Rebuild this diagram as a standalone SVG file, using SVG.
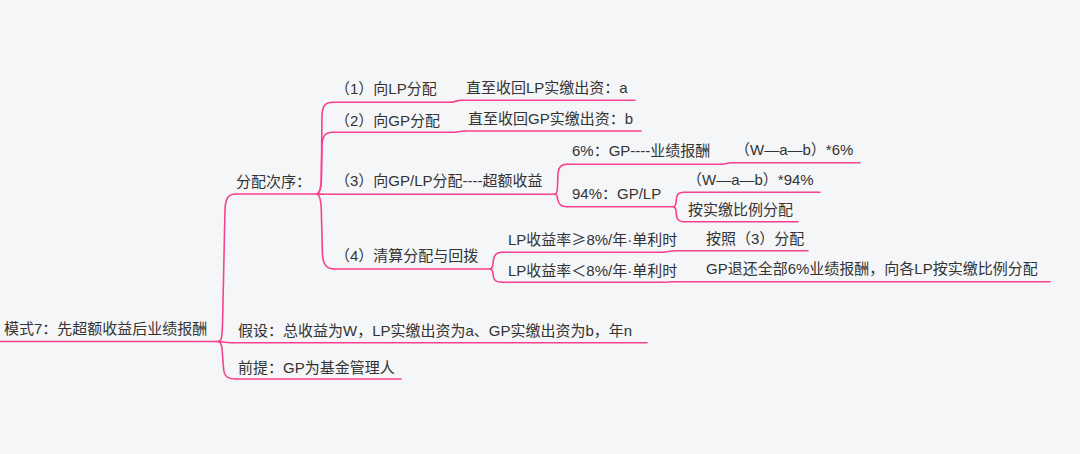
<svg xmlns="http://www.w3.org/2000/svg" width="1080" height="454" viewBox="0 0 1080 454">
<style>
text{font-family:"Liberation Sans","Noto Sans CJK SC",sans-serif;font-size:15px;fill:#333333}
.cj{font-family:"Noto Sans CJK SC",sans-serif}
.ln{fill:none;stroke:#f7408f;stroke-width:1.6;stroke-linecap:round;stroke-linejoin:round}
</style>
<rect x="0" y="0" width="1080" height="454" fill="#f5f6f8"/>
<g id="connectors" class="ln">
  <path d="M218,341.5 C222,341.5 222,336 222.5,325 L225,210 C225.5,198 228,194 236,194"/>
  <path d="M218,341.5 C222,341.5 224,342.7 232,342.7"/>
  <path d="M218,341.5 C222,342 222,348 222.5,355 L223.5,368 C224,376 227,379 236,379"/>
  <path d="M317,194 C320,193 321,188 321.3,180 L322,115 C322.5,106 325,102.3 333,102.3"/>
  <path d="M317,194 C320,193 321,188 321.3,180 L322,145 C322.5,136 325,132.3 333,132.3"/>
  <path d="M317,194 C320,194 322,194.3 330,194.3"/>
  <path d="M317,194 C320,195 321,200 321.3,210 L322.5,255 C323,264 326,269 334,269"/>
  <path d="M450,102.3 C455,102.3 456,100.3 462,100.3"/>
  <path d="M453,132.3 C458,132.3 459,131 465,131"/>
  <path d="M555,194.3 C557,193.8 557.5,190 557.5,185 L558,173 C558.5,167 561,164.3 567,164.3"/>
  <path d="M555,194.3 C557,194.8 557.5,197 557.5,199 L558,200 C558.5,204.5 561,206.7 567,206.7"/>
  <path d="M721.7,164.3 C726,164.3 727,162.7 732,162.7"/>
  <path d="M673.3,206.7 C675.5,206.5 676,204 676.2,201 L676.5,198 C677,194 679,192.3 684,192.3"/>
  <path d="M673.3,206.7 C675.5,207 676,209 676.2,212 L676.5,216 C677,220 679,221.7 684,221.7"/>
  <path d="M490,269 C492,268.5 493,266 493,263 L493.5,260 C494,255 496,252.3 502,252.3"/>
  <path d="M490,269 C492,269.5 493,272 493,274 L493.5,277 C494,280.5 496,282.3 502,282.3"/>
  <path d="M663,252.3 C668,252.3 669,250.7 675,250.7"/>
  <path d="M663,282.3 C668,282.3 669,281.7 675,281.7"/>
</g>
<g id="root">
  <text x="4" y="334">模式7：先超额收益后业绩报酬</text>
  <path class="ln" d="M0,341.5 L218,341.5"/>
</g>
<g id="n-order">
  <text x="236" y="187">分配次序：</text>
  <path class="ln" d="M236,194 L317,194"/>
</g>
<g id="n-assume">
  <text x="238" y="336">假设：总收益为W，LP实缴出资为a、GP实缴出资为b，年n</text>
  <path class="ln" d="M232,342.7 L647,342.7"/>
</g>
<g id="n-premise">
  <text x="238" y="373">前提：GP为基金管理人</text>
  <path class="ln" d="M236,379 L401,379"/>
</g>
<g id="n1">
  <text x="335" y="94">（1）向LP分配</text>
  <path class="ln" d="M333,102.3 L450,102.3"/>
</g>
<g id="n1a">
  <text x="466" y="92.5">直至收回LP实缴出资：a</text>
  <path class="ln" d="M462,100.3 L635,100.3"/>
</g>
<g id="n2">
  <text x="335" y="125.5">（2）向GP分配</text>
  <path class="ln" d="M333,132.3 L453,132.3"/>
</g>
<g id="n2a">
  <text x="468" y="124">直至收回GP实缴出资：b</text>
  <path class="ln" d="M465,131 L641,131"/>
</g>
<g id="n3">
  <text x="335" y="186">（3）向GP/LP分配----超额收益</text>
  <path class="ln" d="M330,194.3 L555,194.3"/>
</g>
<g id="n3a">
  <text x="572" y="156">6%：GP----业绩报酬</text>
  <path class="ln" d="M567,164.3 L721.7,164.3"/>
</g>
<g id="n3a1">
  <text x="735" y="154.5">（W—a—b）*6%</text>
  <path class="ln" d="M732,162.7 L860,162.7"/>
</g>
<g id="n3b">
  <text x="572" y="199">94%：GP/LP</text>
  <path class="ln" d="M567,206.7 L673.3,206.7"/>
</g>
<g id="n3b1">
  <text x="687" y="184.5">（W—a—b）*94%</text>
  <path class="ln" d="M684,192.3 L820,192.3"/>
</g>
<g id="n3b2">
  <text x="688" y="214.5">按实缴比例分配</text>
  <path class="ln" d="M684,221.7 L798,221.7"/>
</g>
<g id="n4">
  <text x="335" y="261">（4）清算分配与回拨</text>
  <path class="ln" d="M334,269 L490,269"/>
</g>
<g id="n4a">
  <text x="508" y="245">LP收益率<tspan class="cj">≥</tspan>8%/年·单利时</text>
  <path class="ln" d="M502,252.3 L663,252.3"/>
</g>
<g id="n4a1">
  <text x="706" y="243.5">按照（3）分配</text>
  <path class="ln" d="M675,250.7 L808,250.7"/>
</g>
<g id="n4b">
  <text x="508" y="275.5">LP收益率＜8%/年·单利时</text>
  <path class="ln" d="M502,282.3 L663,282.3"/>
</g>
<g id="n4b1">
  <text x="706" y="274">GP退还全部6%业绩报酬，向各LP按实缴比例分配</text>
  <path class="ln" d="M675,281.7 L1050,281.7"/>
</g>
</svg>
